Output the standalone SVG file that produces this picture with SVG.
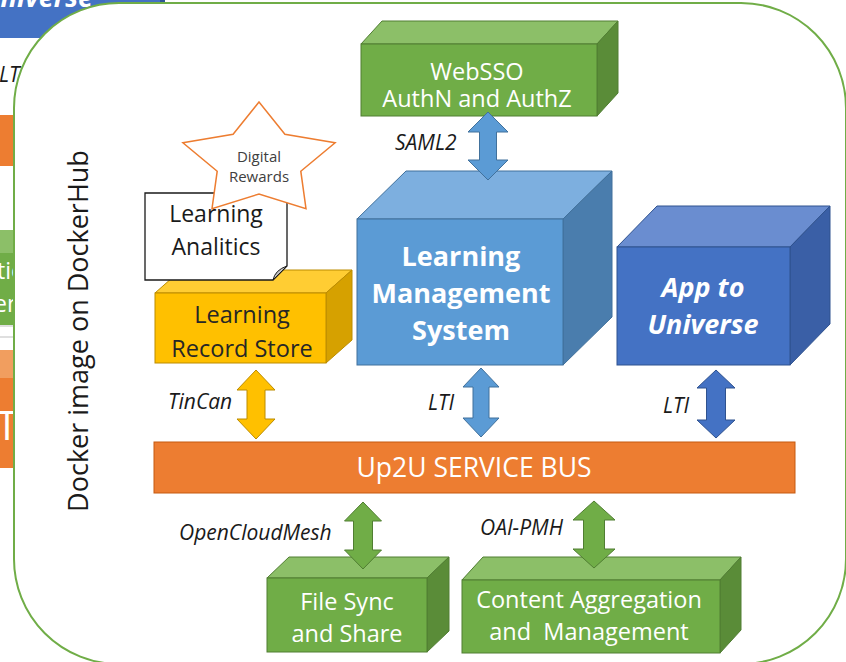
<svg xmlns="http://www.w3.org/2000/svg" width="846" height="662" viewBox="0 0 846 662">
<style>
text{font-family:"Open Sans","Noto Sans","DejaVu Sans",sans-serif}
.w{fill:#fff}
.lbl{font-size:21px;font-style:italic;fill:#1a1a1a}
.box{font-size:23.5px}
.big{font-size:27px;font-weight:bold}
.blueF{fill:#5B9BD5;stroke:#41719C;stroke-width:1}
.blueT{fill:#7DAFDF;stroke:#41719C;stroke-width:1}
.blueS{fill:#4A7DAD;stroke:#41719C;stroke-width:1}
.dbF{fill:#4472C4;stroke:#2F528F;stroke-width:1}
.dbT{fill:#6A8DD0;stroke:#2F528F;stroke-width:1}
.dbS{fill:#3A5FA6;stroke:#2F528F;stroke-width:1}
.gF{fill:#70AD47;stroke:#507E32;stroke-width:1}
.gT{fill:#8CBF68;stroke:#507E32;stroke-width:1}
.gS{fill:#5A8C38;stroke:#507E32;stroke-width:1}
.yF{fill:#FFC000;stroke:#BC8C00;stroke-width:1}
.yT{fill:#FFCD33;stroke:#BC8C00;stroke-width:1}
.yS{fill:#D6A100;stroke:#BC8C00;stroke-width:1}
.aBlue{fill:#5B9BD5;stroke:#41719C;stroke-width:1}
.aDb{fill:#4472C4;stroke:#2F528F;stroke-width:1}
.aY{fill:#FFC000;stroke:#BC8C00;stroke-width:1}
.aG{fill:#70AD47;stroke:#507E32;stroke-width:1}
</style>

<!-- background partial elements (behind the container) -->
<g id="background-partial">
  <rect x="-5" y="-10" width="168" height="48" fill="#4472C4"/>
  <rect x="160" y="0" width="5" height="4" fill="#2F5597"/>
  <text x="93" y="7" class="w" font-size="27" font-weight="bold" font-style="italic" text-anchor="end">Universe</text>
  <text x="-1" y="82" class="lbl">LTI</text>
  <rect x="-5" y="115" width="40" height="51" fill="#ED7D31"/>
  <rect x="-5" y="230" width="40" height="23" fill="#8CBF68"/>
  <rect x="-5" y="253" width="40" height="72" fill="#70AD47"/>
  <text x="-3" y="279" class="w" font-size="23">tio</text>
  <text x="-6" y="312" class="w" font-size="23">ent</text>
  <rect x="-5" y="326" width="40" height="11" fill="#fff" stroke="#bfbfbf" stroke-width="1"/>
  <rect x="-5" y="350" width="40" height="28" fill="#F19E5F"/>
  <rect x="-5" y="378" width="40" height="90" fill="#ED7D31"/>
  <text x="-4" y="440" class="w" font-size="40">T</text>
</g>

<!-- container -->
<g id="container">
  <rect x="14" y="3" width="832" height="661" rx="105" ry="105" fill="#fff" stroke="#70AD47" stroke-width="2"/>
  <text transform="translate(88,331) rotate(-90)" font-size="27" fill="#1a1a1a" text-anchor="middle">Docker image on DockerHub</text>
</g>

<!-- WebSSO -->
<g id="websso">
  <polygon class="gT" points="361,44 382,21 618,21 597,44"/>
  <polygon class="gS" points="597,44 618,21 618,93 597,116"/>
  <rect class="gF" x="361" y="44" width="236" height="72"/>
  <text class="w box" x="477" y="80" text-anchor="middle">WebSSO</text>
  <text class="w box" x="477" y="107" text-anchor="middle">AuthN and AuthZ</text>
</g>

<!-- LMS -->
<g id="lms">
  <polygon class="blueT" points="357,219 406,171 612,171 563,219"/>
  <polygon class="blueS" points="563,219 612,171 612,317 563,365"/>
  <rect class="blueF" x="357" y="219" width="206" height="146"/>
  <text class="w big" x="461" y="266" text-anchor="middle">Learning</text>
  <text class="w big" x="461" y="303" text-anchor="middle">Management</text>
  <text class="w big" x="461" y="340" text-anchor="middle">System</text>
</g>

<!-- App to Universe -->
<g id="app-universe">
  <polygon class="dbT" points="617,247 657,206 830,206 790,247"/>
  <polygon class="dbS" points="790,247 830,206 830,324 790,365"/>
  <rect class="dbF" x="617" y="247" width="173" height="118"/>
  <text class="w big" x="703" y="297" font-style="italic" text-anchor="middle">App to</text>
  <text class="w big" x="703" y="334" font-style="italic" text-anchor="middle">Universe</text>
</g>

<!-- Learning Record Store -->
<g id="lrs">
  <polygon class="yT" points="155,293 181,270 352,270 326,293"/>
  <polygon class="yS" points="326,293 352,270 352,340 326,363"/>
  <rect class="yF" x="155" y="293" width="171" height="70"/>
  <text x="242" y="323" class="box" fill="#262626" text-anchor="middle">Learning</text>
  <text x="242" y="357" class="box" fill="#262626" text-anchor="middle">Record Store</text>
</g>

<!-- Learning Analitics -->
<g id="learning-analitics">
  <path d="M145,193 H287 V266 L273,280 H145 Z" fill="#fff" stroke="#1a1a1a" stroke-width="1.3"/>
  <path d="M287,266 L273,280 Q275,270 287,266 Z" fill="#bfbfbf" stroke="#1a1a1a" stroke-width="1"/>
  <text x="216" y="222" font-size="23" fill="#1a1a1a" text-anchor="middle">Learning</text>
  <text x="216" y="255" font-size="23" fill="#1a1a1a" text-anchor="middle">Analitics</text>
</g>

<!-- Digital Rewards star -->
<g id="digital-rewards">
  <polygon points="259,102 284.9,134.3 335.1,142.8 300.8,171.2 306,208.7 259,194 212,208.7 217.2,171.2 182.9,142.8 233.1,134.3" fill="#fff" stroke="#ED7D31" stroke-width="1.5"/>
  <text x="259" y="162" font-size="15" fill="#404040" text-anchor="middle">Digital</text>
  <text x="259" y="182" font-size="15" fill="#404040" text-anchor="middle">Rewards</text>
</g>

<!-- Service bus -->
<g id="service-bus">
  <rect x="154" y="442" width="641" height="51" fill="#ED7D31" stroke="#C55A11" stroke-width="1"/>
  <text class="w" x="474" y="477" font-size="26.5" text-anchor="middle">Up2U SERVICE BUS</text>
</g>

<!-- File Sync and Share -->
<g id="file-sync">
  <polygon class="gT" points="267,578 289,557 449,557 427,578"/>
  <polygon class="gS" points="427,578 449,557 449,631 427,652"/>
  <rect class="gF" x="267" y="578" width="160" height="74"/>
  <text class="w box" x="347" y="610" text-anchor="middle">File Sync</text>
  <text class="w box" x="347" y="642" text-anchor="middle">and Share</text>
</g>

<!-- Content Aggregation and Management -->
<g id="content-aggregation">
  <polygon class="gT" points="462,580 483,557 741,557 720,580"/>
  <polygon class="gS" points="720,580 741,557 741,630 720,653"/>
  <rect class="gF" x="462" y="580" width="258" height="73"/>
  <text class="w box" x="589" y="608" text-anchor="middle">Content Aggregation</text>
  <text class="w box" x="589" y="640" text-anchor="middle" xml:space="preserve">and  Management</text>
</g>

<!-- connectors -->
<g id="connectors">
  <polygon class="aBlue" points="488,112 508,132 496.5,132 496.5,160 508,160 488,180 468,160 479.5,160 479.5,132 468,132"/>
  <text class="lbl" x="395" y="150">SAML2</text>

  <polygon class="aBlue" points="481,368 499,387 489,387 489,418 499,418 481,437 463,418 473,418 473,387 463,387"/>
  <text class="lbl" x="428" y="410">LTI</text>

  <polygon class="aDb" points="716,370 735,388 725.5,388 725.5,420 735,420 716,438 697,420 706.5,420 706.5,388 697,388"/>
  <text class="lbl" x="663" y="413">LTI</text>

  <polygon class="aY" points="256,370 275,390 265,390 265,419 275,419 256,439 237,419 247,419 247,390 237,390"/>
  <text class="lbl" x="168" y="409">TinCan</text>

  <polygon class="aG" points="363,502 381.5,521 372.5,521 372.5,550 381.5,550 363,569 344.5,550 353.5,550 353.5,521 344.5,521"/>
  <text class="lbl" x="179" y="540">OpenCloudMesh</text>

  <polygon class="aG" points="594,501 615,520 604.5,520 604.5,549 615,549 594,568 573,549 583.5,549 583.5,520 573,520"/>
  <text class="lbl" x="480" y="535">OAI-PMH</text>
</g>
</svg>
